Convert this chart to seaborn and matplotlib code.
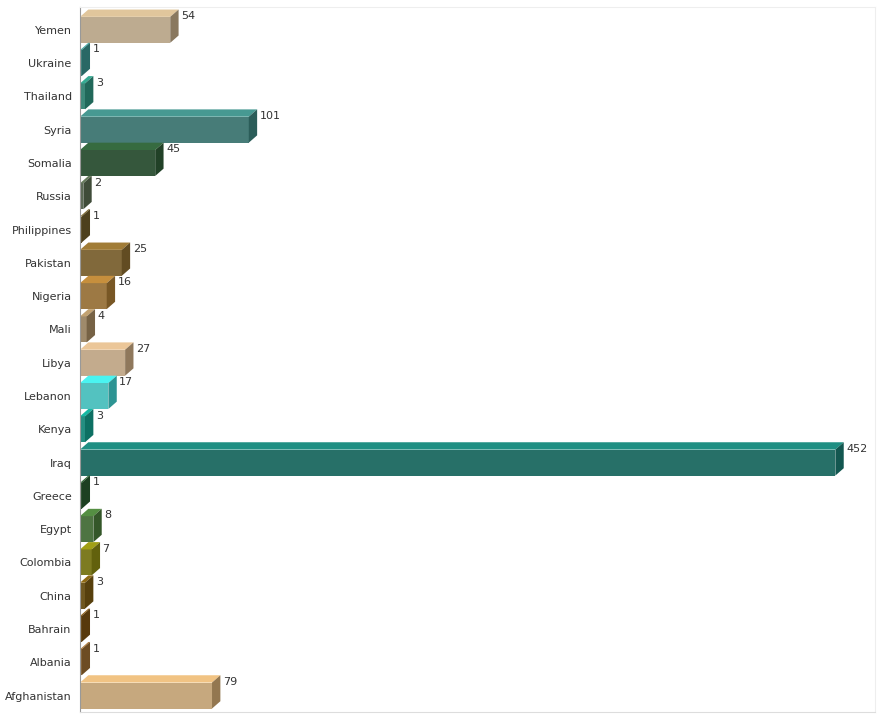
import matplotlib
matplotlib.use("Agg")
import matplotlib.pyplot as plt
import matplotlib.colors as mcolors
from matplotlib.patches import Polygon
import seaborn as sns

countries = ["Yemen", "Ukraine", "Thailand", "Syria", "Somalia", "Russia", "Philippines",
             "Pakistan", "Nigeria", "Mali", "Libya", "Lebanon", "Kenya", "Iraq", "Greece",
             "Egypt", "Colombia", "China", "Bahrain", "Albania", "Afghanistan"]
values = [54, 1, 3, 101, 45, 2, 1, 25, 16, 4, 27, 17, 3, 452, 1, 8, 7, 3, 1, 1, 79]
colors = ["#c4ac88", "#3a9590", "#2f9580", "#3e857f", "#2f5d38", "#5a6c52", "#6e5c2a",
          "#8c6c30", "#ac7c35", "#a88c62", "#ccac84", "#40d4d2", "#12a08e", "#1b7c72",
          "#2a5c30", "#4a7c3a", "#8c8a12", "#7c5c12", "#7c5212", "#9c6c32", "#d2aa72"]

sns.set_style("white")
fig = plt.figure(figsize=(8.79, 7.26), dpi=100)
ax = fig.add_axes([0.091, 0.019, 0.905, 0.972])

sns.barplot(x=values, y=countries, hue=countries, palette=colors, legend=False,
            orient="h", width=0.78, ax=ax, edgecolor="none")

# fake 3D faces derived from each bar patch
dx, dy = 5.0, 0.22
for patch, col, v in zip(ax.patches, colors, values):
    x0, y0 = patch.get_x(), patch.get_y()
    w, h = patch.get_width(), patch.get_height()
    dark = tuple(c * 0.7 for c in mcolors.to_rgb(col))
    light = tuple(min(1, c * 1.15) for c in mcolors.to_rgb(col))
    top = Polygon([(x0, y0), (x0 + dx, y0 - dy), (x0 + w + dx, y0 - dy), (x0 + w, y0)],
                  closed=True, facecolor=light, edgecolor="none")
    side = Polygon([(x0 + w, y0), (x0 + w + dx, y0 - dy), (x0 + w + dx, y0 + h - dy),
                    (x0 + w, y0 + h)], closed=True, facecolor=dark, edgecolor="none")
    ax.add_patch(top)
    ax.add_patch(side)
    ax.text(x0 + w + dx + 1.5, y0 - dy + 0.05, str(v), fontsize=8, va="top",
            ha="left", color="#333333")

ax.set_xlim(0, 476)
ax.set_ylim(len(countries) - 0.5, -0.7)
ax.set_xticks([])
ax.set_xlabel("")
ax.set_ylabel("")
ax.tick_params(axis="y", labelsize=8, length=0, pad=6, labelcolor="#333333")
for s in ["top", "right"]:
    ax.spines[s].set_color("#eeeeee")
ax.spines["bottom"].set_color("#dddddd")
ax.spines["left"].set_color("#999999")

fig.savefig("out.png", dpi=100)
